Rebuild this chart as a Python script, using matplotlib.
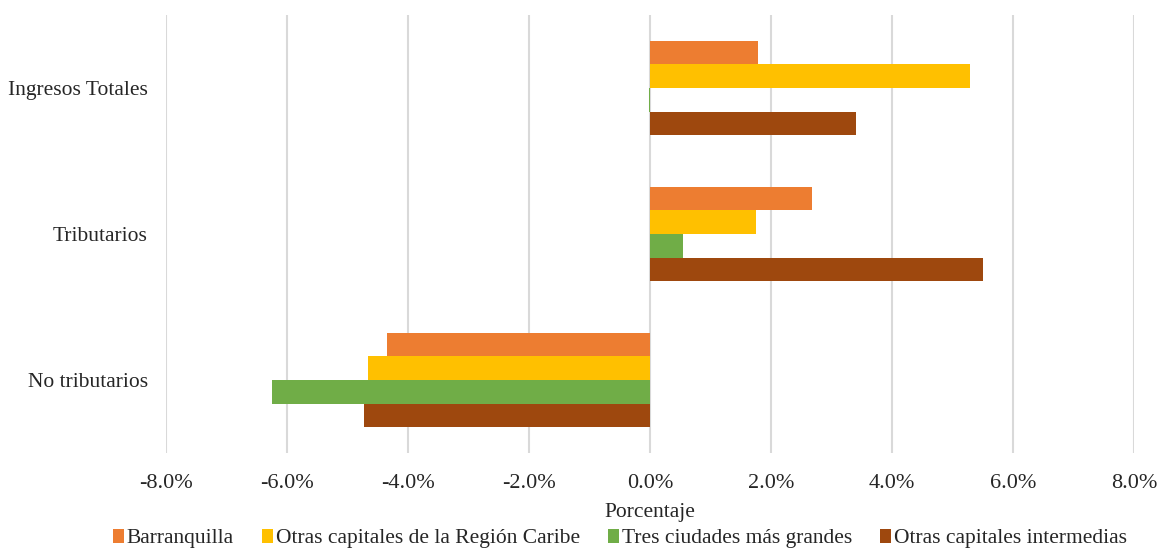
import matplotlib
matplotlib.use("Agg")
import matplotlib.pyplot as plt
import numpy as np

plt.rcParams['font.family'] = ['Liberation Serif', 'DejaVu Serif']

categories = ["Ingresos Totales", "Tributarios", "No tributarios"]
series_names = ["Barranquilla", "Otras capitales de la Región Caribe",
                "Tres ciudades más grandes", "Otras capitales intermedias"]
barranquilla = [1.79, 2.68, -4.35]
caribe = [5.29, 1.75, -4.66]
tres_ciudades = [-0.02, 0.54, -6.25]
intermedias = [3.40, 5.50, -4.73]
x_ticks = [-8, -6, -4, -2, 0, 2, 4, 6, 8]

colors = ["#ED7D31", "#FFC000", "#70AD47", "#9E480E"]
values = [barranquilla, caribe, tres_ciudades, intermedias]
text_color = "#262626"
fs = 15.5

fig = plt.figure(figsize=(11.59, 5.48), dpi=100)
ax = fig.add_axes([166 / 1159, 1 - 453 / 548, (1134 - 166) / 1159, (453 - 15) / 548])

y = np.arange(len(categories))
h = 0.161
offsets = (np.arange(4) - 1.5) * h
for vals, off, col, name in zip(values, offsets, colors, series_names):
    ax.barh(y + off, vals, height=h, color=col, label=name, zorder=3)

ax.set_xlim(-8, 8)
ax.set_ylim(2.5, -0.5)
ax.set_xticks(x_ticks)
ax.set_xticklabels([f"{v:.1f}%" for v in x_ticks], fontsize=16)
ax.set_yticks(y)
ax.set_yticklabels(categories, fontsize=fs)
ax.tick_params(axis='both', length=0)
ax.tick_params(axis='x', pad=15)
ax.tick_params(axis='y', pad=13)
for lbl in ax.get_xticklabels() + ax.get_yticklabels():
    lbl.set_color(text_color)
ax.grid(axis='x', color="#D9D9D9", linewidth=1.5, zorder=0)
for s in ax.spines.values():
    s.set_visible(False)

ax.set_xlabel("Porcentaje", fontsize=fs, color=text_color, labelpad=7)

handles, labels = ax.get_legend_handles_labels()
leg = fig.legend(handles, labels, loc='center', bbox_to_anchor=(0.535, 0.017),
                 ncol=4, frameon=False, fontsize=fs, handlelength=0.5,
                 handleheight=0.6, handletextpad=0.15, columnspacing=1.3,
                 borderaxespad=0, borderpad=0)
for t in leg.get_texts():
    t.set_color(text_color)

fig.savefig("out.png", dpi=100)
